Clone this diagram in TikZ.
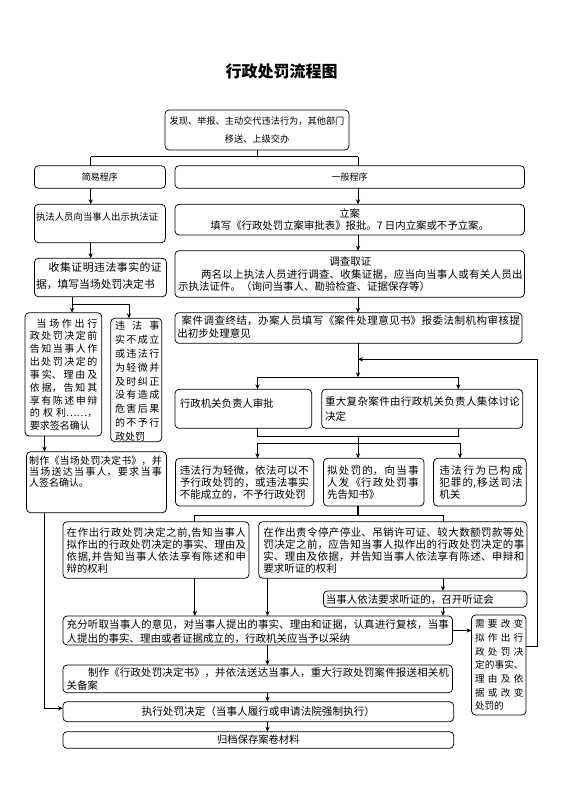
\documentclass[tikz,border=0pt]{standalone}
\usepackage{fontspec}
\setmainfont{Noto Sans CJK SC}
\usetikzlibrary{arrows.meta}
\XeTeXlinebreaklocale "zh"
\XeTeXlinebreakskip=0pt plus 4pt
\setlength\parindent{0pt}
\tolerance=10000
\hbadness=10000
\hfuzz=2pt
\newcommand\fsz[2]{\fontsize{#1}{#2}\selectfont}
\newcommand\bxnode[5]{\node[bx, minimum width={#4pt-#2pt}, minimum height={#5pt-#3pt}] (#1) at (#2,#3) {};}
\begin{document}
\begin{tikzpicture}[x=1pt,y=-1pt,
  bx/.style={draw, rounded corners=4pt, line width=0.75pt, inner sep=0pt, outer sep=0pt, anchor=north west},
  ln/.style={line width=0.75pt},
  ar/.style={line width=0.75pt, -{Stealth[length=5pt,width=4.2pt]}},
  tx/.style={inner sep=0pt, outer sep=0pt, anchor=base west, align=justify},
  sl/.style={inner sep=0pt, outer sep=0pt, anchor=base west},
  ct/.style={inner sep=0pt, outer sep=0pt, align=center}]
\fill[white] (0,0) rectangle (582,793);
\useasboundingbox (0,0) rectangle (582,793);

\node[ct, font=\bfseries\fsz{16}{18}] (title) at (281.5,71.7) {行政处罚流程图};

% boxes
\bxnode{top}{165}{110}{349}{150}
\bxnode{jianyi}{34.4}{165.7}{165.4}{188.3}
\bxnode{yiban}{175}{165.7}{524.4}{188.3}
\bxnode{zhifa}{34.4}{204.3}{165.4}{242.7}
\bxnode{lian}{175}{204.3}{524.4}{235}
\bxnode{shouji}{34.4}{258.3}{166.5}{296.7}
\bxnode{diaocha}{175}{250.7}{524.4}{297.3}
\bxnode{dangchang}{25}{312.7}{101.7}{436}
\bxnode{buli}{110.7}{318.3}{161.7}{441.7}
\bxnode{anjian}{175}{312.7}{522}{343.3}
\bxnode{shenpi}{175}{389.3}{311.7}{428.3}
\bxnode{zhongda}{321.7}{389.3}{522.7}{428.3}
\bxnode{zhizuo1}{26.5}{451.7}{166.5}{512.7}
\bxnode{qingwei}{175.5}{458.3}{313.7}{506}
\bxnode{nichufa}{323.4}{458.3}{424}{506}
\bxnode{fanzui}{433.6}{458.3}{526.2}{506}
\bxnode{gaozhi1}{63}{521.7}{249}{578.3}
\bxnode{gaozhi2}{258.7}{521.7}{527}{578.3}
\bxnode{tingzheng}{323.4}{591}{527}{607.3}
\bxnode{chongfen}{63}{616}{452.6}{645}
\bxnode{biangeng}{471.6}{615}{526}{715}
\bxnode{zhizuo2}{63}{665}{452.6}{692.7}
\bxnode{zhixing}{63}{701.7}{453.7}{721.7}
\bxnode{guidang}{63}{731.7}{453.7}{748.3}

% texts
\node[ct, font=\fsz{9.2}{17.6}] at (top.center) {发现、举报、主动交代违法行为，其他部门\\移送、上级交办};
\node[ct, font=\fsz{9}{11}] at (jianyi.center) {简易程序};
\node[ct, font=\fsz{9}{11}] at (yiban.center) {一般程序};
\node[sl, font=\fsz{9.4}{12}] at (36,220.3) {执法人员向当事人出示执法证};
\node[ct, font=\fsz{10.4}{12.4}] at (lian.center) {立案\\填写《行政处罚立案审批表》报批。7 日内立案或不予立案。};
\node[tx, text width=125.8pt, font=\fsz{10.8}{16.3}] at (36,271.8) {\hspace*{12.7pt}收集证明违法事实的证\linebreak 据，填写当场处罚决定书};
\node[tx, text width=344.6pt, font=\fsz{10.5}{12.3}] at (178,265.7) {\makebox[\linewidth]{调查取证}\\\hspace*{23pt}两名以上执法人员进行调查、收集证据，应当向当事人或有关人员出\linebreak 示执法证件。（询问当事人、勘验检查、证据保存等）};
\node[tx, text width=342.7pt, font=\fsz{10.5}{12.6}] at (177.3,324.7) {\hspace*{4.4pt}案件调查终结，办案人员填写《案件处理意见书》报委法制机构审核提\linebreak 出初步处理意见};
\node[tx, text width=67.3pt, font=\fsz{10}{12.84}] at (30,327.1) {\parfillskip=0pt \hspace*{6.7pt}当场作出行\linebreak 政处罚决定前\linebreak 告知当事人作\linebreak 出处罚决定的\linebreak 事实、理由及\linebreak 依据，告知其\linebreak 享有陈述申辩\linebreak 的权利……，\linebreak 要求签名确认};
\node[tx, text width=44.3pt, font=\fsz{10}{13.8}] at (115,329.8) {违法事\linebreak 实不成立\linebreak 或违法行\linebreak 为轻微并\linebreak 及时纠正\linebreak 没有造成\linebreak 危害后果\linebreak 的不予行\linebreak 政处罚};
\node[sl, font=\fsz{10.4}{12}] at (180,407.3) {行政机关负责人审批};
\node[tx, text width=195pt, font=\fsz{10.5}{15.7}] at (325,405) {重大复杂案件由行政机关负责人集体讨论\linebreak 决定};
\node[tx, text width=132.8pt, font=\fsz{10}{11}] at (29,464.5) {制作《当场处罚决定书》，并\linebreak 当场送达当事人，要求当事\linebreak 人签名确认。};
\node[tx, text width=129.2pt, font=\fsz{10.5}{11.7}] at (179.8,474.7) {\parfillskip=0pt 违法行为轻微，依法可以不\linebreak 予行政处罚的，或违法事实\linebreak 不能成立的，不予行政处罚};
\node[tx, text width=91.5pt, font=\fsz{10.5}{11.7}] at (327,474.7) {拟处罚的，向当事\linebreak 人发《行政处罚事\linebreak 先告知书》};
\node[tx, text width=83.3pt, font=\fsz{10.5}{11.7}] at (439.3,474.7) {违法行为已构成\linebreak 犯罪的,移送司法\linebreak 机关};
\node[tx, text width=179.3pt, font=\fsz{10.3}{11.9}] at (66.7,536.6) {在作出行政处罚决定之前,告知当事人\linebreak 拟作出的行政处罚决定的事实、理由及\linebreak 依据,并告知当事人依法享有陈述和申\linebreak 辩的权利};
\node[tx, text width=261pt, font=\fsz{10.5}{11.9}] at (263.4,536.6) {在作出责令停产停业、吊销许可证、较大数额罚款等处\linebreak 罚决定之前，应告知当事人拟作出的行政处罚决定的事\linebreak 实、理由及依据，并告知当事人依法享有陈述、申辩和\linebreak 要求听证的权利};
\node[sl, font=\fsz{10.5}{12}] at (325.9,603) {当事人依法要求听证的，召开听证会};
\node[tx, text width=382.3pt, font=\fsz{10.5}{14.3}] at (66.7,628) {充分听取当事人的意见，对当事人提出的事实、理由和证据，认真进行复核，当事\linebreak 人提出的事实、理由或者证据成立的，行政机关应当予以采纳};
\node[tx, text width=48.5pt, font=\fsz{9.6}{13.7}] at (475,627.6) {需要改变\linebreak 拟作出行\linebreak 政处罚决\linebreak 定的事实、\linebreak 理由及依\linebreak 据或改变\linebreak 处罚的};
\node[tx, text width=382.3pt, font=\fsz{10.4}{12.3}] at (66.7,676.7) {\hspace*{21.5pt}制作《行政处罚决定书》，并依法送达当事人，重大行政处罚案件报送相关机\linebreak 关备案};
\node[ct, font=\fsz{10.6}{12}] at (zhixing.center) {执行处罚决定（当事人履行或申请法院强制执行）};
\node[ct, font=\fsz{10.3}{12}] at (guidang.center) {归档保存案卷材料};

% coordinates
\coordinate (cA) at (90.7,156.7);
\coordinate (cB) at (358,156.7);
\coordinate (c72) at (72,304.3);
\coordinate (c129) at (129,304.3);
\coordinate (c44) at (44.4,0);
\coordinate (c44b) at (44.4,708.3);
\coordinate (jA) at (358,377.3);
\coordinate (jL) at (257.5,377.3);
\coordinate (jR) at (458.3,377.3);
\coordinate (kL) at (257.5,436);
\coordinate (kR) at (458.3,436);
\coordinate (kM) at (358,436);
\coordinate (mM) at (358,443.3);
\coordinate (mL) at (257.5,443.3);
\coordinate (mR) at (460,443.3);
\coordinate (nM) at (358,515);
\coordinate (nL) at (194.8,515);
\coordinate (nR) at (443,515);
\coordinate (x267) at (267.5,0);
\coordinate (fb1) at (537,646);
\coordinate (fb2) at (537,359.3);
\coordinate (fb3) at (358,359.3);

% connectors
\draw[ln] (top.south) -- (top.south |- cA);
\draw[ln] (cA) -- (cB);
\draw[ln] (cA) -- (cA |- jianyi.north);
\draw[ln] (cB) -- (cB |- yiban.north);
\draw[ar] (cA |- jianyi.south) -- (cA |- zhifa.north);
\draw[ar] (cA |- zhifa.south) -- (cA |- shouji.north);
\draw[ar] (cB |- yiban.south) -- (cB |- lian.north);
\draw[ar] (cB |- lian.south) -- (cB |- diaocha.north);
\draw[ar] (cB |- diaocha.south) -- (cB |- anjian.north);
\draw[ar] (cB |- anjian.south) -- (jA);
\draw[ln] (jL) -- (jR);
\draw[ar] (jL) -- (jL |- shenpi.north);
\draw[ar] (jR) -- (jR |- zhongda.north);
\draw[ln] (jL |- shenpi.south) -- (kL) -- (kR) -- (jR |- zhongda.south);
\draw[ln] (kM) -- (mM);
\draw[ln] (mL) -- (mR);
\draw[ar] (mL) -- (mL |- qingwei.north);
\draw[ar] (mM) -- (mM |- nichufa.north);
\draw[ar] (mR) -- (mR |- fanzui.north);

\draw[ar] (c72 |- shouji.south) -- (c72 |- dangchang.north);
\draw[ln] (c72) -- (c129);
\draw[ar] (c129) -- (c129 |- buli.north);
\draw[ar] (c44 |- dangchang.south) -- (c44 |- zhizuo1.north);
\draw[ar] (c44 |- zhizuo1.south) -- (c44b) -- (zhixing.west |- c44b);

\draw[line width=1.1pt] (nM |- nichufa.south) -- (nM);
\draw[ln] (nL) -- (nR);
\draw[ln] (nL) -- (nL |- gaozhi1.north);
\draw[ln] (nR) -- (nR |- gaozhi2.north);
\draw[ar] (nL |- gaozhi1.south) -- (nL |- chongfen.north);
\draw[ar] (x267 |- gaozhi2.south) -- (x267 |- chongfen.north);
\draw[ar] (nR |- gaozhi2.south) -- (nR |- tingzheng.north);
\draw[ar] (nR |- tingzheng.south) -- (nR |- chongfen.north);
\draw[ar] (chongfen.east) -- (chongfen.east -| biangeng.west);
\draw[ar] (biangeng.east |- fb1) -- (fb1) -- (fb2) -- (fb3);
\draw[ar] (x267 |- chongfen.south) -- (x267 |- zhizuo2.north);
\draw[ar] (x267 |- zhizuo2.south) -- (x267 |- zhixing.north);
\draw[ar] (x267 |- zhixing.south) -- (x267 |- guidang.north);
\end{tikzpicture}
\end{document}
